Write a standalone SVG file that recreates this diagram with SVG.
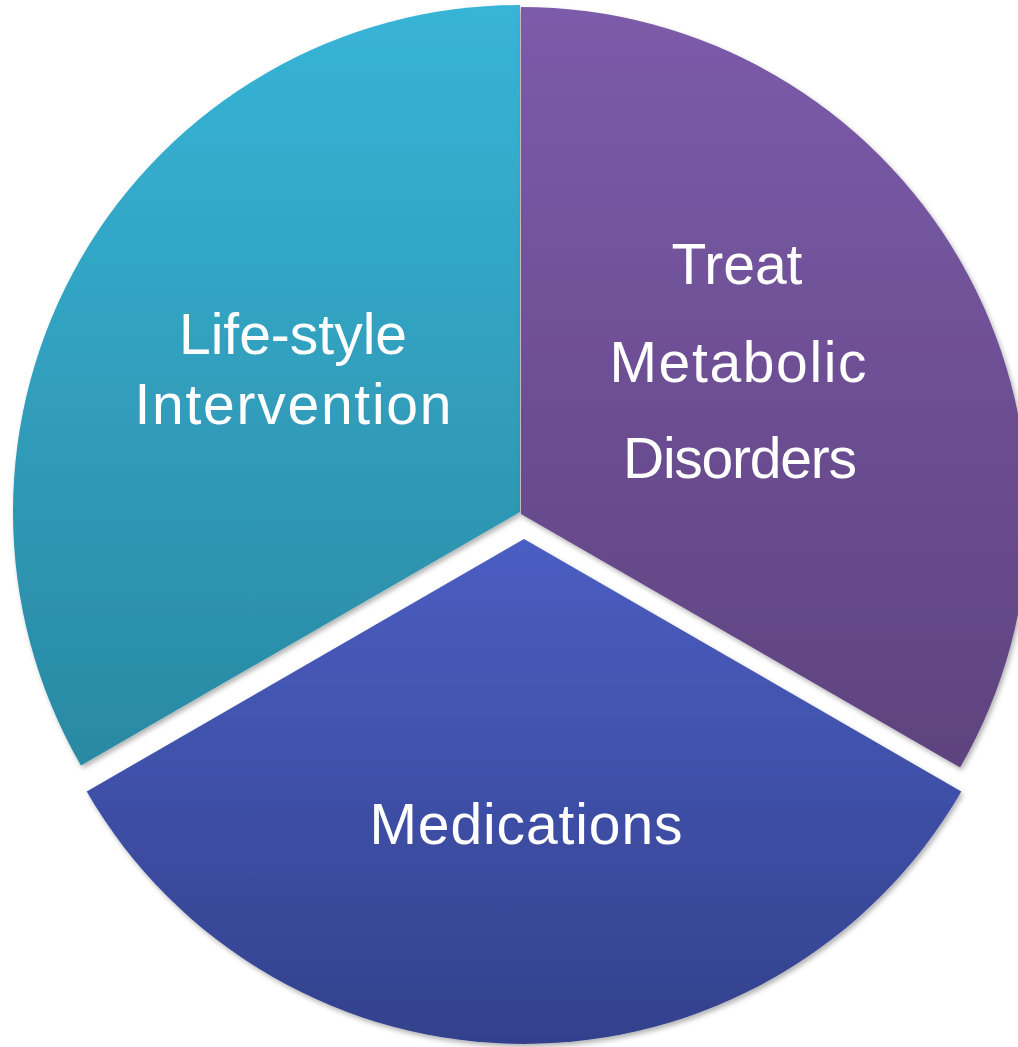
<svg xmlns="http://www.w3.org/2000/svg" width="1018" height="1047" viewBox="0 0 1018 1047">
  <style>
    .label { font-family: "Liberation Sans", Arial, sans-serif; font-size: 57px; fill: #ffffff; text-anchor: middle; }
    .slice { filter: url(#shadow); }
  </style>
  <defs>
    <linearGradient id="gTeal" x1="0" y1="0" x2="0" y2="1">
      <stop offset="0" stop-color="#37B4D7"/>
      <stop offset="1" stop-color="#2A89A2"/>
    </linearGradient>
    <linearGradient id="gPurple" x1="0" y1="0" x2="0" y2="1">
      <stop offset="0" stop-color="#7C5BAA"/>
      <stop offset="1" stop-color="#5E437E"/>
    </linearGradient>
    <linearGradient id="gBlue" x1="0" y1="0" x2="0" y2="1">
      <stop offset="0" stop-color="#4A5EC2"/>
      <stop offset="1" stop-color="#33418C"/>
    </linearGradient>
    <filter id="shadow" x="-5%" y="-5%" width="110%" height="110%">
      <feDropShadow dx="2" dy="3" stdDeviation="2.5" flood-color="#000000" flood-opacity="0.3"/>
    </filter>
  </defs>

  <g id="lifestyle">
    <path class="slice" d="M520,512 L520,5 A507,507 0 0 0 80.9,765.5 Z" fill="url(#gTeal)"/>
    <text class="label" x="293" y="354">Life-style</text>
    <text class="label" x="293" y="424" textLength="317" lengthAdjust="spacing">Intervention</text>
  </g>

  <g id="treat">
    <path class="slice" d="M521,514 L521,7 A507,507 0 0 1 960.1,767.5 Z" fill="url(#gPurple)"/>
    <text class="label" x="737" y="284">Treat</text>
    <text class="label" x="738" y="382" textLength="257" lengthAdjust="spacing">Metabolic</text>
    <text class="label" x="740" y="478" textLength="234" lengthAdjust="spacing">Disorders</text>
  </g>

  <g id="medications">
    <path class="slice" d="M524,539 L961.3,791.5 A505,505 0 0 1 86.7,791.5 Z" fill="url(#gBlue)"/>
    <text class="label" x="526" y="844" textLength="313" lengthAdjust="spacing">Medications</text>
  </g>

  <g id="connectors"/>
</svg>
